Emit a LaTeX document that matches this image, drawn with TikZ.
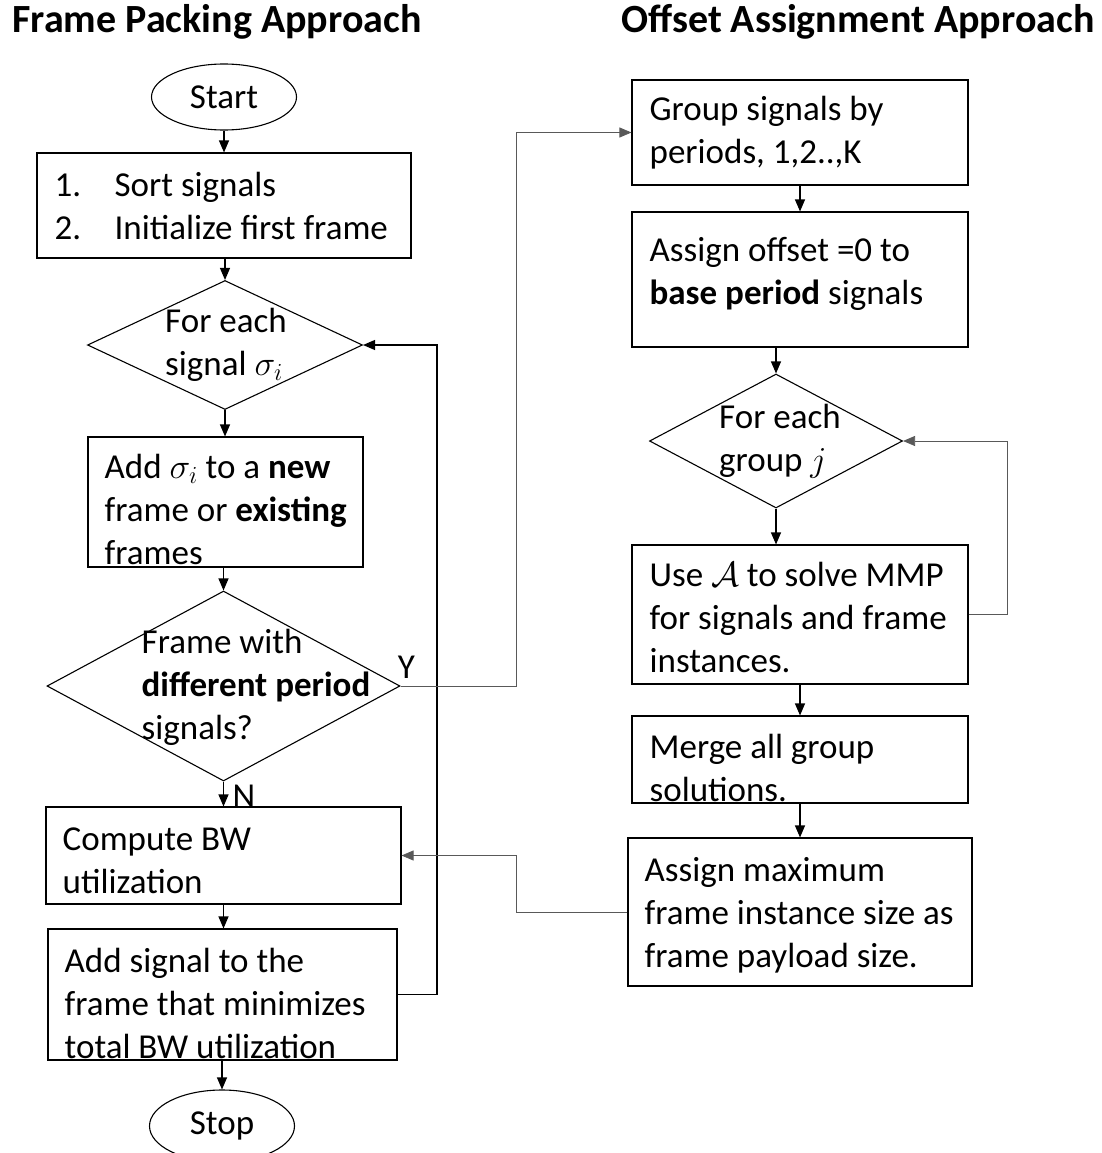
\RequirePackage{fix-cm}
\documentclass[tikz,border=0pt]{standalone}
\usepackage{fontspec}
\setmainfont{Carlito}
\usepackage{tikz}
\usetikzlibrary{arrows.meta,positioning,shapes.geometric}

\begin{document}
\begin{tikzpicture}[x=1pt,y=-1pt,
  every node/.style={font=\fontsize{35}{43}\selectfont},
  title/.style={font=\fontsize{40}{48}\selectfont\bfseries},
  box/.style={draw,line width=1.1pt,rectangle,inner sep=0pt},
  txt/.style={inner sep=0pt,align=left},
  decision/.style={draw,line width=1.1pt,diamond,inner sep=0pt},
  terminal/.style={draw,line width=1.1pt,ellipse,minimum width=145pt,minimum height=66pt},
  flow/.style={line width=1.1pt,-{Triangle[length=12pt,width=10pt]}},
  back/.style={line width=0.8pt,draw=black!65,-{Triangle[length=12pt,width=10pt]}}]
\useasboundingbox (0,0) rectangle (1102,1153);

% headings
\node[title] (fphead) at (217,22) {Frame Packing Approach};
\node[title] (oahead) at (858,22) {Offset Assignment Approach};

% frame packing
\node[terminal] (start) at (224,97) {Start};
\node[box,minimum width=374pt,minimum height=105pt] (sort) at (224,205.5) {};
\node[txt,right=18pt of sort.west] (sorttxt)
  {\makebox[60pt][l]{1.}Sort signals\\\makebox[60pt][l]{2.}Initialize first frame};
\node[decision,minimum width=275pt,minimum height=129pt] (each) at (225,345) {};
\node[txt] (eachtxt) at (226,345) {For each\\signal $\sigma_i$};
\node[box,minimum width=275pt,minimum height=130pt] (add) at (225.5,502) {};
\node[txt,right=17pt of add.west,yshift=-7pt] (addtxt)
  {Add $\sigma_i$ to a \textbf{new}\\frame or \textbf{existing}\\frames};
\node[decision,minimum width=353pt,minimum height=190pt] (diff) at (223.5,686) {};
\node[txt] (difftxt) at (256,687) {Frame with\\\textbf{different period}\\signals?};
\node[box,minimum width=355pt,minimum height=97pt] (bw) at (223.5,855.5) {};
\node[txt,right=17pt of bw.west,yshift=-5pt] (bwtxt) {Compute BW\\utilization};
\node[box,minimum width=349pt,minimum height=131pt] (pick) at (222.5,994.5) {};
\node[txt,right=17pt of pick.west,yshift=-9pt] (picktxt)
  {Add signal to the\\frame that minimizes\\total BW utilization};
\node[terminal,minimum height=72pt] (stop) at (222,1126) {Stop};

\node[inner sep=0pt,above right=7pt and -3pt of diff.east] (ylab) {Y};
\node[inner sep=0pt,below right=3pt and 9pt of diff.south] (nlab) {N};

% offset assignment
\node[box,minimum width=336pt,minimum height=105pt] (group) at (800,132.5) {};
\node[txt,right=18pt of group.west] (grouptxt) {Group signals by\\periods, 1,2..,K};
\node[box,minimum width=336pt,minimum height=135pt] (zero) at (800,279.5) {};
\node[txt,right=18pt of zero.west,yshift=6pt] (zerotxt)
  {Assign offset =0 to\\\textbf{base period} signals};
\node[decision,minimum width=253pt,minimum height=134pt] (grp) at (776,441) {};
\node[txt] (grptxt) at (780,441) {For each\\group $j$};
\node[box,minimum width=336pt,minimum height=139pt] (mmp) at (800,614.5) {};
\node[txt,right=18pt of mmp.west,yshift=-3pt] (mmptxt)
  {Use $\mathcal{A}$ to solve MMP\\for signals and frame\\instances.};
\node[box,minimum width=336pt,minimum height=87pt] (merge) at (800,759.5) {};
\node[txt,right=18pt of merge.west,yshift=-8pt] (mergetxt) {Merge all group\\solutions.};
\node[box,minimum width=344pt,minimum height=148pt] (maxsize) at (800,912) {};
\node[txt,right=17pt of maxsize.west,yshift=-3pt] (maxsizetxt)
  {Assign maximum\\frame instance size as\\frame payload size.};

\coordinate (loopx) at (437,0);
\coordinate (yx) at (516,0);
\coordinate (fbx) at (1007,0);

\draw[flow] (start.south) -- (start.south |- sort.north);
\draw[flow] (sort.south -| each.north) -- (each.north);
\draw[flow] (each.south) -- (each.south |- add.north);
\draw[flow] (add.south -| diff.north) -- (diff.north);
\draw[flow] (diff.south) -- (diff.south |- bw.north);
\draw[flow] (bw.south) -- (bw.south |- pick.north);
\draw[flow] (pick.south -| stop.north) -- (stop.north);
\draw[flow] (pick.east) -| (loopx |- each.east) -- (each.east);

\draw[back] (diff.east) -| (yx |- group.west) -- (group.west);
\draw[back] (maxsize.west) -| (yx |- bw.east) -- (bw.east);

\draw[flow] (group.south) -- (group.south |- zero.north);
\draw[flow] (grp.north |- zero.south) -- (grp.north);
\draw[flow] (grp.south) -- (grp.south |- mmp.north);
\draw[back] (mmp.east) -| (fbx |- grp.east) -- (grp.east);
\draw[flow] (mmp.south) -- (mmp.south |- merge.north);
\draw[flow] (merge.south) -- (merge.south |- maxsize.north);
\end{tikzpicture}
\end{document}
